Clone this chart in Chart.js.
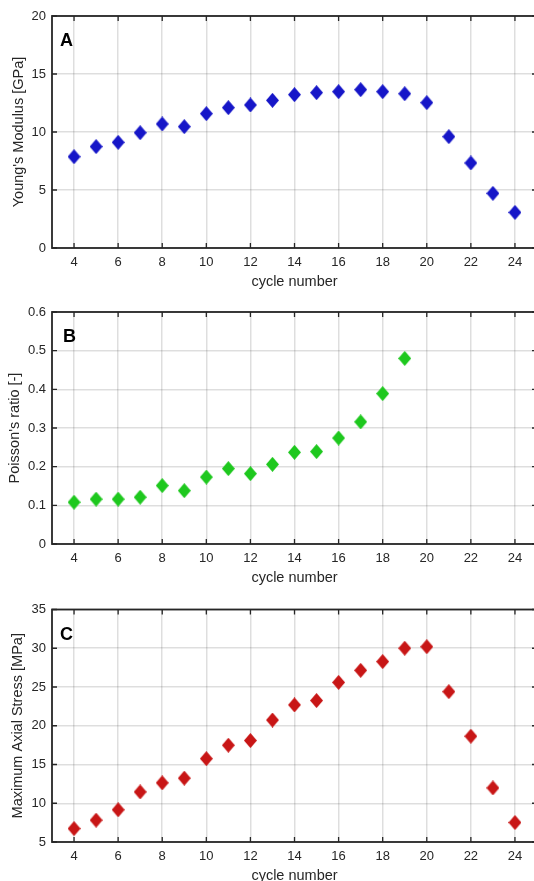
<!DOCTYPE html>
<html>
<head>
<meta charset="utf-8">
<script src="https://cdn.jsdelivr.net/npm/chart.js@4.4.1/dist/chart.umd.min.js"></script>
<style>
  html, body { margin: 0; padding: 0; background: #fff; width: 534px; height: 881px; overflow: hidden; position: relative; }
  canvas { position: absolute; left: 0; }
</style>
</head>
<body>
<canvas id="chartA" width="560" height="300" style="top:0px"></canvas>
<canvas id="chartB" width="560" height="300" style="top:296px"></canvas>
<canvas id="chartC" width="560" height="300" style="top:594px"></canvas>
<script>
// cycle numbers
const cycles        = [4, 5, 6, 7, 8, 9, 10, 11, 12, 13, 14, 15, 16, 17, 18, 19, 20, 21, 22, 23, 24];
const cyclesPoisson = [4, 5, 6, 7, 8, 9, 10, 11, 12, 13, 14, 15, 16, 17, 18, 19];

// values
const youngsModulus  = [7.87, 8.74, 9.11, 9.94, 10.69, 10.46, 11.58, 12.10, 12.33, 12.73, 13.22, 13.39, 13.48, 13.65, 13.48, 13.30, 12.53, 9.60, 7.33, 4.71, 3.07];
const poissonRatio   = [0.108, 0.116, 0.116, 0.121, 0.151, 0.138, 0.173, 0.195, 0.182, 0.206, 0.237, 0.239, 0.274, 0.316, 0.389, 0.480];
const maxAxialStress = [6.73, 7.82, 9.16, 11.46, 12.63, 13.24, 15.75, 17.49, 18.09, 20.74, 22.69, 23.25, 25.59, 27.15, 28.28, 30.0, 30.2, 24.4, 18.65, 11.98, 7.51];

// ticks
const xTicks       = [4, 6, 8, 10, 12, 14, 16, 18, 20, 22, 24];
const youngTicks   = [0, 5, 10, 15, 20];
const poissonTicks = [0, 0.1, 0.2, 0.3, 0.4, 0.5, 0.6];
const stressTicks  = [5, 10, 15, 20, 25, 30, 35];

const AXIS = '#262626';
const FONT = '"Liberation Sans", Arial, Helvetica, sans-serif';

// taller-than-wide filled diamond, like the matlab 'd' marker
function diamond(color) {
  const w = 13, h = 15;
  const c = document.createElement('canvas');
  c.width = w; c.height = h;
  const g = c.getContext('2d');
  g.fillStyle = color;
  g.beginPath();
  g.moveTo(w / 2, 0);
  g.lineTo(w, h / 2);
  g.lineTo(w / 2, h);
  g.lineTo(0, h / 2);
  g.closePath();
  g.fill();
  return c;
}

// box, inward ticks on all four sides, panel letter
const framePlugin = {
  id: 'frame',
  afterDraw(chart, args, opts) {
    const { ctx, chartArea: a, scales: { x, y } } = chart;
    ctx.save();
    ctx.strokeStyle = AXIS;
    ctx.lineWidth = 1.3;
    ctx.beginPath();
    x.ticks.forEach(t => {
      const px = x.getPixelForValue(t.value);
      ctx.moveTo(px, a.bottom); ctx.lineTo(px, a.bottom - 5);
      ctx.moveTo(px, a.top);    ctx.lineTo(px, a.top + 5);
    });
    y.ticks.forEach(t => {
      const py = y.getPixelForValue(t.value);
      ctx.moveTo(a.left, py);  ctx.lineTo(a.left + 5, py);
      ctx.moveTo(a.right, py); ctx.lineTo(a.right - 5, py);
    });
    ctx.stroke();
    ctx.lineWidth = 1.8;
    ctx.strokeRect(a.left, a.top, a.right - a.left, a.bottom - a.top);

    ctx.fillStyle = '#000';
    ctx.font = 'bold 18px ' + FONT;
    ctx.textBaseline = 'middle';
    ctx.textAlign = 'left';
    ctx.fillText(opts.letter, a.left + opts.dx, a.top + 25.5);
    ctx.restore();
  }
};

function makePanel(id, xs, ys, color, yMin, yMax, yTicks, yTitle, letter, opt) {
  const ctx = document.getElementById(id);
  return new Chart(ctx, {
    type: 'scatter',
    data: {
      datasets: [{
        data: xs.map((c, i) => ({ x: c, y: ys[i] })),
        pointStyle: diamond(color),
        pointRadius: 7,
        backgroundColor: color,
        borderColor: color
      }]
    },
    options: {
      responsive: false,
      animation: false,
      devicePixelRatio: 1,
      layout: { padding: { top: opt.padTop, right: 23, left: 0, bottom: 0 } },
      plugins: {
        legend: { display: false },
        tooltip: { enabled: false },
        frame: { letter: letter, dx: opt.letterDx }
      },
      scales: {
        x: {
          type: 'linear',
          min: 3,
          max: 25,
          afterBuildTicks: s => { s.ticks = xTicks.map(v => ({ value: v })); },
          afterFit: s => { s.height = 52; },
          grid: { color: 'rgba(0,0,0,0.13)', lineWidth: 1.5, drawTicks: false },
          border: { display: false },
          ticks: { padding: 7, color: AXIS, font: { family: FONT, size: 13 }, maxRotation: 0, callback: v => String(v) },
          title: { display: true, text: 'cycle number', color: AXIS, font: { family: FONT, size: 14.5 }, padding: { top: 0, bottom: 9.3 } }
        },
        y: {
          min: yMin,
          max: yMax,
          afterBuildTicks: s => { s.ticks = yTicks.map(v => ({ value: v })); },
          afterFit: s => { s.width = 52; },
          grid: { color: 'rgba(0,0,0,0.13)', lineWidth: 1.5, drawTicks: false },
          border: { display: false },
          ticks: { padding: 6, color: AXIS, font: { family: FONT, size: 13 }, callback: v => String(v) },
          title: { display: true, text: yTitle, color: AXIS, font: { family: FONT, size: 14.5 }, padding: { top: opt.titlePad, bottom: 0 } }
        }
      }
    },
    plugins: [framePlugin]
  });
}

makePanel('chartA', cycles, youngsModulus, '#1616c8', 0, 20, youngTicks,
  "Young's Modulus [GPa]", 'A', { padTop: 16, letterDx: 8, titlePad: 10 });
makePanel('chartB', cyclesPoisson, poissonRatio, '#1ec81e', 0, 0.6, poissonTicks,
  "Poisson's ratio [-]", 'B', { padTop: 16, letterDx: 11, titlePad: 6 });
makePanel('chartC', cycles, maxAxialStress, '#c81616', 5, 35, stressTicks,
  'Maximum Axial Stress [MPa]', 'C', { padTop: 15.5, letterDx: 8, titlePad: 9.5 });
</script>
</body>
</html>
